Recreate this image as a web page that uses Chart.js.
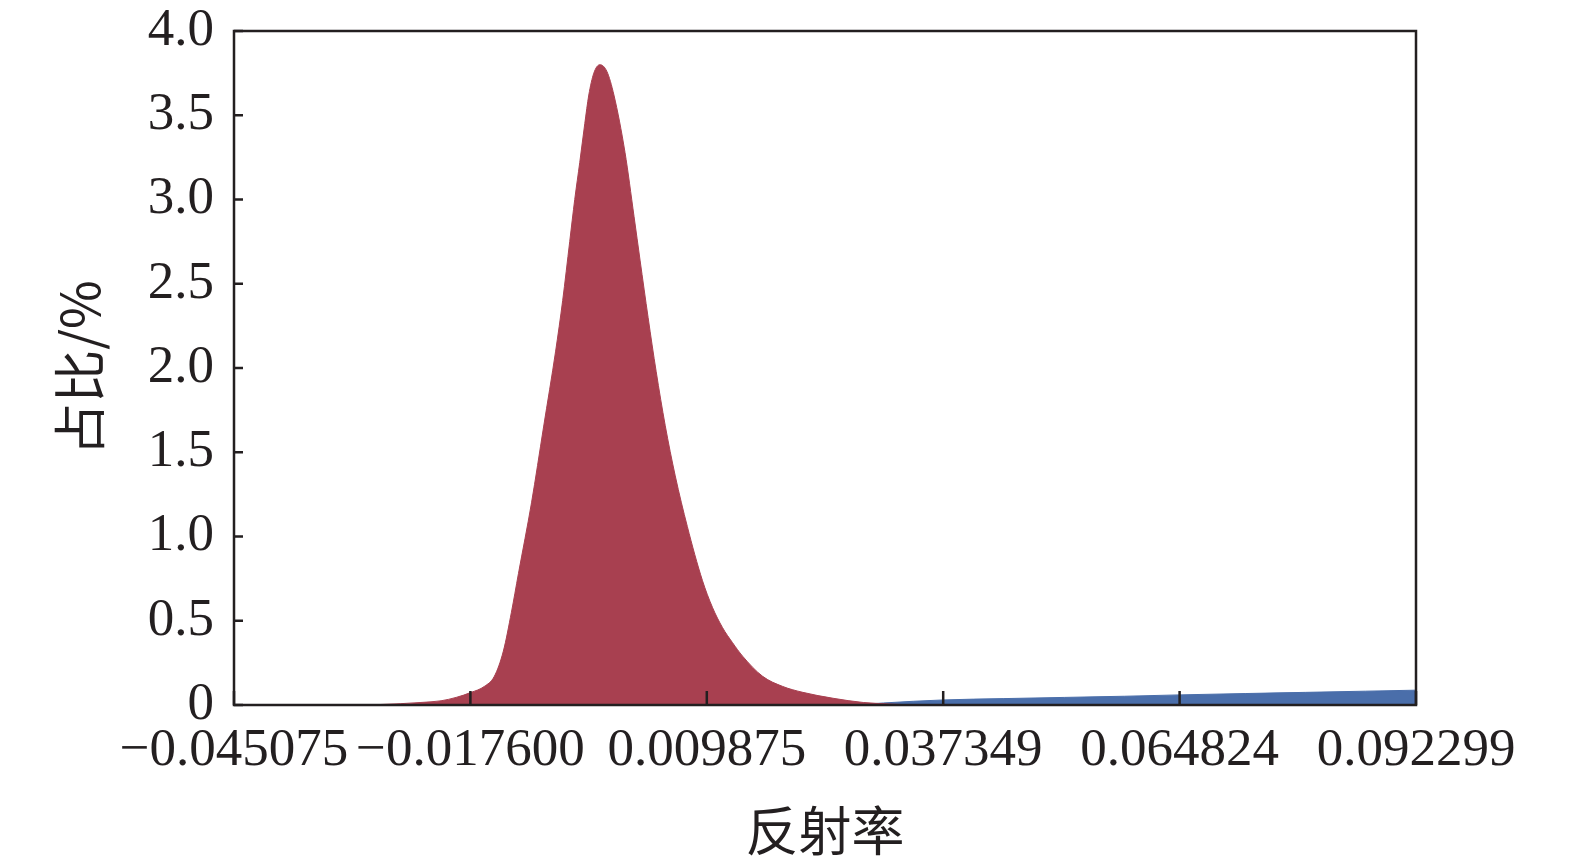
<!DOCTYPE html>
<html>
<head>
<meta charset="utf-8">
<script src="https://cdn.jsdelivr.net/npm/chart.js@4.4.1/dist/chart.umd.min.js"></script>
<style>
  html, body { margin: 0; padding: 0; background: #fff; }
  #wrap { width: 1575px; height: 863px; }
</style>
</head>
<body>
<div id="wrap"><canvas id="reflChart" width="1575" height="863"></canvas></div>
<script>
// tick positions and labels
const xTicks = [-0.045075, -0.0176, 0.009875, 0.037349, 0.064824, 0.092299];
const xTickLabels = ['−0.045075', '−0.017600', '0.009875', '0.037349', '0.064824', '0.092299'];
const yTicks = [0, 0.5, 1.0, 1.5, 2.0, 2.5, 3.0, 3.5, 4.0];
const yTickLabels = ['0', '0.5', '1.0', '1.5', '2.0', '2.5', '3.0', '3.5', '4.0'];

// red distribution (reflectance, share %)
const redX = [-0.030356, -0.02802, -0.025684, -0.023348, -0.021011, -0.019259, -0.017507,
  -0.015988, -0.01482, -0.013769, -0.012834, -0.012017, -0.010498, -0.009096, -0.007695,
  -0.006877, -0.006059, -0.005475, -0.004891, -0.004307, -0.00384, -0.003256, -0.002555,
  -0.001737, -0.000919, 0.000366, 0.001417, 0.002118, 0.003052, 0.003987, 0.005038,
  0.006206, 0.007608, 0.00936, 0.010528, 0.011696, 0.012864, 0.014033, 0.016369,
  0.018705, 0.021042, 0.024546, 0.028051, 0.031555, 0.033891];
const redY = [0, 0.003, 0.008, 0.015, 0.025, 0.045, 0.075,
  0.11, 0.17, 0.32, 0.55, 0.78, 1.2, 1.65, 2.1,
  2.4, 2.75, 3.0, 3.22, 3.45, 3.62, 3.75, 3.8,
  3.76, 3.62, 3.28, 2.9, 2.64, 2.3, 1.98, 1.66,
  1.36, 1.06, 0.74, 0.58, 0.46, 0.37, 0.29, 0.17,
  0.11, 0.075, 0.04, 0.015, 0.005, 0];

// blue distribution
const blueX = [0.02688, 0.03039, 0.03735, 0.0444, 0.05141, 0.05842, 0.06482, 0.07244, 0.07944, 0.08645, 0.0923];
const blueY = [0, 0.012, 0.03, 0.038, 0.045, 0.052, 0.06, 0.068, 0.075, 0.082, 0.088];

const INK = '#231f20';
const RED = 'rgb(168, 64, 80)';
const BLUE = 'rgb(74, 110, 170)';
const tickFont = { family: "'Liberation Serif', 'Times New Roman', serif", size: 53 };
const titleFont = { family: "'Noto Sans CJK SC', sans-serif", size: 53 };

const frame = {
    id: 'frame',
    afterDatasetsDraw(chart) {
        const { ctx, chartArea: a, scales: { x, y } } = chart;
        ctx.save();
        ctx.strokeStyle = INK;
        ctx.lineWidth = 2.5;
        ctx.strokeRect(a.left, a.top, a.right - a.left, a.bottom - a.top);
        ctx.beginPath();
        x.ticks.forEach(t => {
            const px = x.getPixelForValue(t.value);
            ctx.moveTo(px, a.bottom);
            ctx.lineTo(px, a.bottom - 14);
        });
        y.ticks.forEach(t => {
            const py = y.getPixelForValue(t.value);
            ctx.moveTo(a.left, py);
            ctx.lineTo(a.left + 9, py);
        });
        ctx.stroke();
        ctx.restore();
    }
};

const toPoints = (xs, ys) => xs.map((v, i) => ({ x: v, y: ys[i] }));

new Chart(document.getElementById('reflChart'), {
    type: 'line',
    data: {
        datasets: [{
            data: toPoints(redX, redY),
            borderColor: RED,
            backgroundColor: RED,
            borderWidth: 1,
            fill: 'origin',
            pointRadius: 0,
            cubicInterpolationMode: 'monotone'
        }, {
            data: toPoints(blueX, blueY),
            borderColor: BLUE,
            backgroundColor: BLUE,
            borderWidth: 1,
            fill: 'origin',
            pointRadius: 0,
            cubicInterpolationMode: 'monotone'
        }]
    },
    options: {
        responsive: false,
        devicePixelRatio: 1,
        animation: false,
        layout: { padding: { top: 31, right: 159, left: 0, bottom: 0 } },
        plugins: {
            legend: { display: false },
            tooltip: { enabled: false }
        },
        scales: {
            x: {
                type: 'linear',
                min: xTicks[0],
                max: xTicks[xTicks.length - 1],
                afterBuildTicks: s => { s.ticks = xTicks.map(v => ({ value: v })); },
                afterFit: s => { s.height = 158; },
                ticks: {
                    callback: (v, i) => xTickLabels[i],
                    autoSkip: false,
                    maxRotation: 0,
                    minRotation: 0,
                    padding: 14,
                    color: INK,
                    font: tickFont
                },
                grid: { display: false, drawTicks: false },
                border: { display: false },
                title: { display: true, text: '反射率', color: INK, font: titleFont, padding: 0 }
            },
            y: {
                min: 0,
                max: 4,
                afterBuildTicks: s => { s.ticks = yTicks.map(v => ({ value: v })); },
                afterFit: s => {
                    s.width = 234;
                    s.paddingTop = 0;
                    s.paddingBottom = 0;
                },
                ticks: {
                    callback: (v, i) => yTickLabels[i],
                    padding: 20,
                    color: INK,
                    font: tickFont
                },
                grid: { display: false, drawTicks: false },
                border: { display: false },
                title: { display: true, text: '占比/%', color: INK, font: titleFont, padding: { top: 48, bottom: 0 } }
            }
        }
    },
    plugins: [frame]
});
</script>
</body>
</html>
